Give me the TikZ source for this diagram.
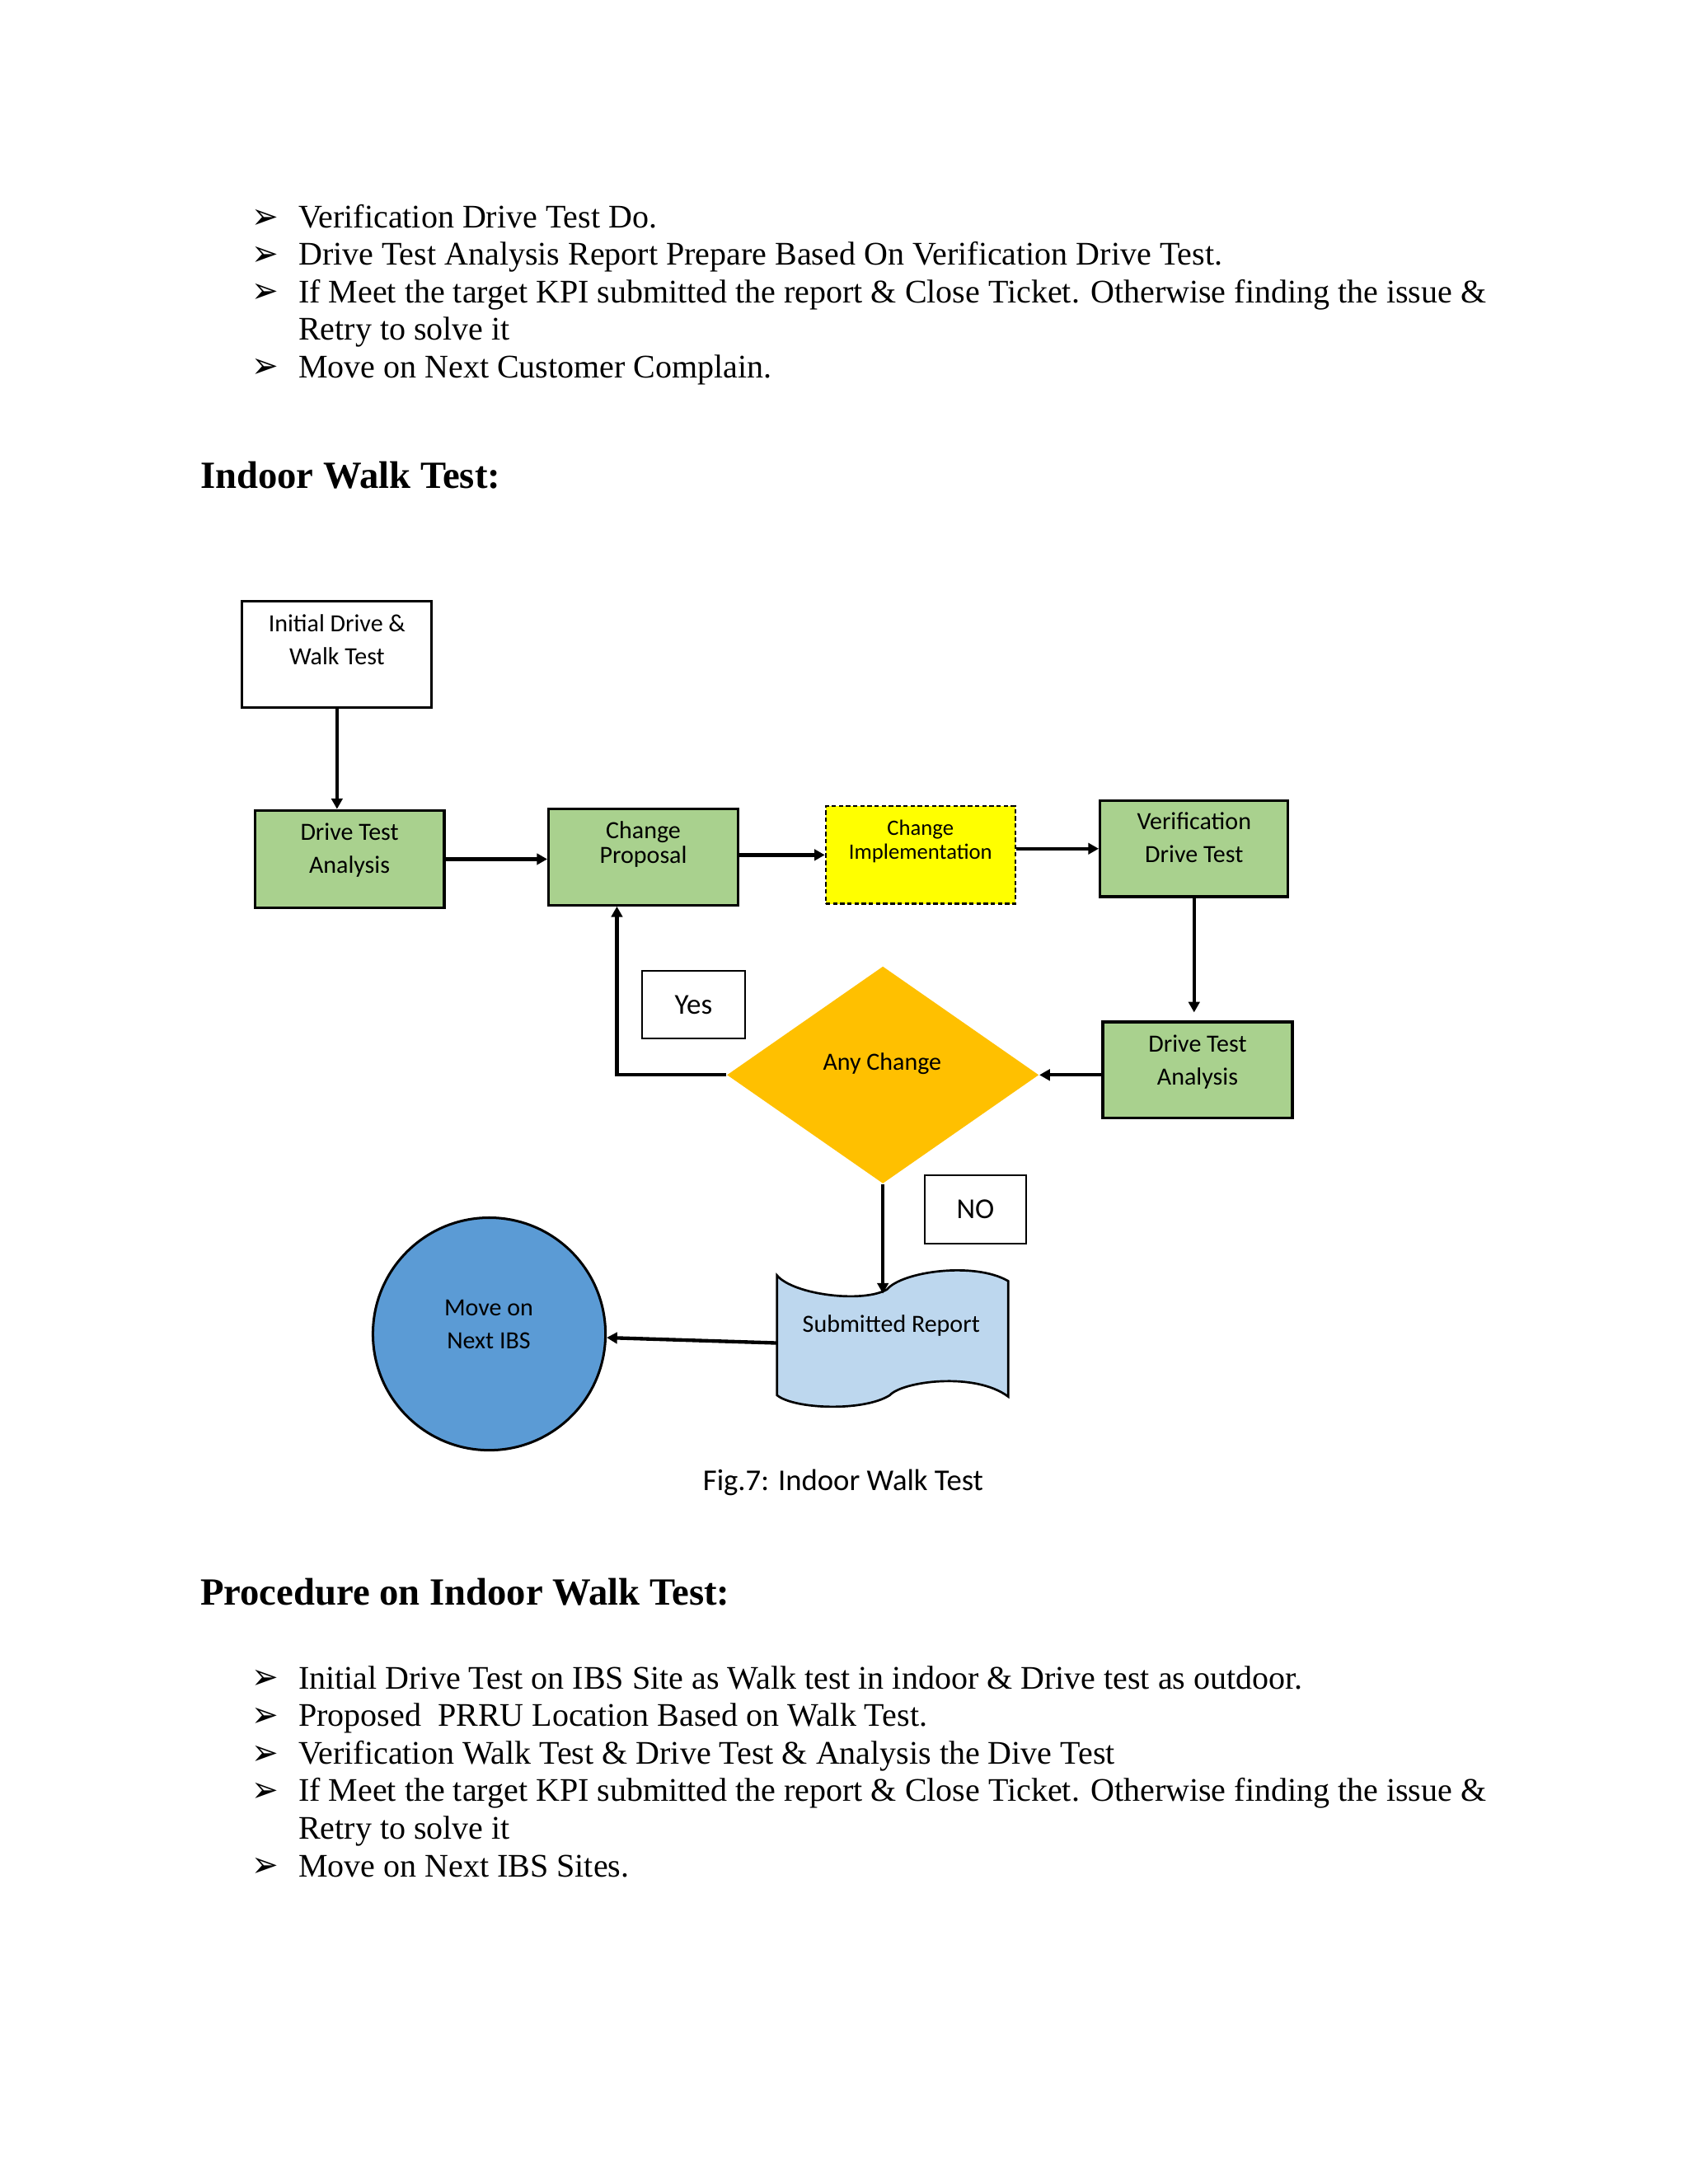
\documentclass[tikz,border=0pt]{standalone}
\usepackage{fontspec}
\setmainfont{Liberation Serif}
\newfontfamily\calib{Carlito}
\newfontfamily\dejavu{DejaVu Sans}
\usetikzlibrary{shapes.geometric,arrows.meta}
\definecolor{boxgreen}{HTML}{A9D18E}
\definecolor{boxyellow}{HTML}{FFFF00}
\definecolor{decgold}{HTML}{FFC000}
\definecolor{tapeblue}{HTML}{BDD7EE}
\definecolor{circblue}{HTML}{5B9BD5}
\newcommand\pxu{0.50495bp}
\newcommand\stk[2]{\vtop{\baselineskip=#1\lineskiplimit=-\maxdimen\halign{\hfil##\hfil\cr#2\crcr}}}
\newcommand\lstk[2]{\vtop{\baselineskip=#1\lineskiplimit=-\maxdimen\halign{##\hfil\cr#2\crcr}}}
\newcommand\bulglyph{\scalebox{1.3}[1.45]{➢}}
\begin{document}
\begin{tikzpicture}[x=\pxu,y=-\pxu,
  bodytext/.style={anchor=base west, inner sep=0pt, font=\fontsize{12}{13.6}\selectfont},
  bul/.style={anchor=base west, inner sep=0pt, font=\dejavu\fontsize{9}{10}\selectfont},
  headtext/.style={anchor=base west, inner sep=0pt, font=\bfseries\fontsize{14}{16}\selectfont},
  procbox/.style={draw=black, line width=1bp, fill=boxgreen, minimum width=136*\pxu, minimum height=70*\pxu, inner sep=0pt},
  implbox/.style={draw=black, line width=0.7bp, dash pattern=on 1.6bp off 1bp, fill=boxyellow, minimum width=136*\pxu, minimum height=70*\pxu, inner sep=0pt},
  startbox/.style={draw=black, line width=0.9bp, fill=white, minimum width=136*\pxu, minimum height=76*\pxu, inner sep=0pt},
  labbox/.style={draw=black, line width=0.6bp, fill=white, minimum width=74*\pxu, minimum height=49*\pxu, inner sep=0pt, font=\calib\fontsize{10.5}{12}\selectfont},
  ftext/.style={anchor=base, inner sep=0pt, font=\calib\fontsize{9}{11}\selectfont},
  stext/.style={anchor=base, inner sep=0pt, font=\calib\fontsize{8}{10}\selectfont},
  captext/.style={anchor=base, inner sep=0pt, font=\calib\fontsize{11}{13}\selectfont},
  arr/.style={line width=1.3bp, -{Triangle[length=3.8bp,width=4bp]}},
]
\fill[white] (0,0) rectangle (1212,1568.5);
\useasboundingbox (0,0) rectangle (1212,1568.5);

% ---- first bullet list ----
\node[bul] (b1) at (180.5,164) {\bulglyph};
\node[bodytext] (l1) at (214,163.5) {Verification Drive Test Do.};
\node[bul] (b2) at (180.5,190.9) {\bulglyph};
\node[bodytext] (l2) at (214,190.4) {Drive Test Analysis Report Prepare Based On Verification Drive Test.};
\node[bul] (b3) at (180.5,217.8) {\bulglyph};
\node[bodytext] (l3) at (214,217.3) {\lstk{13.58bp}{If Meet the target KPI submitted the report \& Close Ticket. Otherwise finding the issue \&\cr Retry to solve it}};
\node[bul] (b4) at (180.5,271.6) {\bulglyph};
\node[bodytext] (l4) at (214,271.1) {Move on Next Customer Complain.};

\node[headtext] (h1) at (143.5,350.6) {Indoor Walk Test:};

% ---- flowchart ----
\node[startbox] (idw) at (242,470) {};
\node[ftext] (idwt) at (242,453.5) {\stk{12bp}{Initial Drive \&\cr Walk Test}};

\node[procbox] (dta1) at (251,617) {};
\node[ftext] (dta1t) at (251,603.6) {\stk{12bp}{Drive Test\cr Analysis}};

\node[procbox, minimum height=69*\pxu] (cp) at (462,615.5) {};
\node[ftext] (cpt) at (462,602.3) {\stk{8.9bp}{Change\cr Proposal}};

\node[implbox] (ci) at (661,614) {};
\node[stext] (cit) at (661,599.7) {\stk{8.75bp}{Change\cr Implementation}};

\node[procbox, minimum width=135*\pxu, minimum height=69*\pxu] (vdt) at (857.5,609.5) {};
\node[ftext] (vdtt) at (857.5,595.7) {\stk{12bp}{Verification\cr Drive Test}};

\node[procbox, minimum height=69*\pxu] (dta2) at (860,768.5) {};
\node[ftext] (dta2t) at (860,755.5) {\stk{12.1bp}{Drive Test\cr Analysis}};

\node[diamond, fill=decgold, minimum width=224*\pxu, minimum height=156*\pxu, inner sep=0pt] (ac) at (634,772) {};
\node[ftext] (act) at (633.5,768.3) {Any Change};

\node[labbox] (yes) at (498,721.5) {Yes};
\node[labbox, minimum width=73*\pxu] (no) at (700.5,868.5) {NO};

% punched tape
\filldraw[fill=tapeblue, draw=black, line width=0.8bp]
  (558,916) .. controls (570,930) and (620,936) .. (637,926)
  .. controls (648,913) and (700,906) .. (724,920)
  -- (724,1003)
  .. controls (700,985) and (648,992) .. (639,1002)
  .. controls (620,1014) and (570,1012) .. (558,1002) -- cycle;
\node[ftext] (srt) at (640,957) {Submitted Report};
\coordinate (srtop) at (634,929);
\coordinate (srleft) at (558,964.5);

\node[circle, draw=black, line width=0.9bp, fill=circblue, minimum size=167*\pxu, inner sep=0pt] (mv) at (351.3,958) {};
\node[ftext] (mvt) at (351,945) {\stk{12bp}{Move on\cr Next IBS}};

\node[captext] (cap) at (605.5,1070.5) {Fig.7: Indoor Walk Test};

% connectors
\draw[arr] (idw.south) -- (idw.south |- dta1.north);
\draw[arr] (dta1.east) -- (dta1.east -| cp.west);
\draw[arr] (cp.east |- ci.west) -- (ci.west);
\draw[arr] (ci.east |- vdt.west) -- (vdt.west);
\draw[arr, shorten >=3bp] (vdt.south) -- (vdt.south |- dta2.north);
\draw[arr] (dta2.west |- ac.east) -- (ac.east);
\coordinate (yl) at (443,772);
\draw[arr] (ac.west) -- (yl) -- (yl |- cp.south);
\draw[arr] (ac.south) -- (srtop);
\draw[arr] (srleft) -- (mv);

% ---- second part ----
\node[headtext] (h2) at (143.5,1152.5) {Procedure on Indoor Walk Test:};

\node[bul] (c1) at (180.5,1213.3) {\bulglyph};
\node[bodytext] (m1) at (214,1212.8) {Initial Drive Test on IBS Site as Walk test in indoor \& Drive test as outdoor.};
\node[bul] (c2) at (180.5,1240.3) {\bulglyph};
\node[bodytext] (m2) at (214,1239.8) {Proposed\ \ PRRU Location Based on Walk Test.};
\node[bul] (c3) at (180.5,1267.3) {\bulglyph};
\node[bodytext] (m3) at (214,1266.8) {Verification Walk Test \& Drive Test \& Analysis the Dive Test};
\node[bul] (c4) at (180.5,1294.3) {\bulglyph};
\node[bodytext] (m4) at (214,1293.8) {\lstk{13.58bp}{If Meet the target KPI submitted the report \& Close Ticket. Otherwise finding the issue \&\cr Retry to solve it}};
\node[bul] (c5) at (180.5,1348.3) {\bulglyph};
\node[bodytext] (m5) at (214,1347.8) {Move on Next IBS Sites.};
\end{tikzpicture}
\end{document}
